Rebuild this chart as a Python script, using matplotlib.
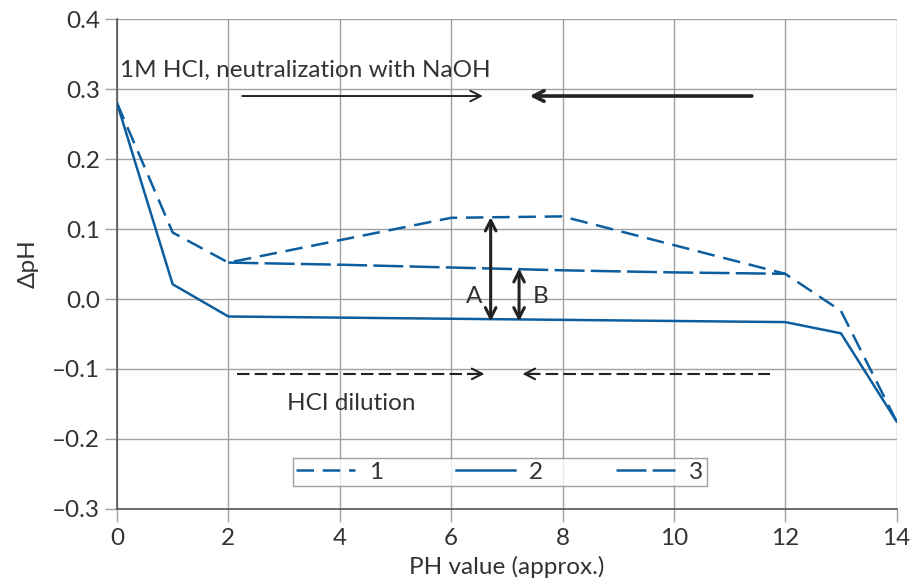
import matplotlib.pyplot as plt

plt.rcParams['font.family'] = ['Lato', 'DejaVu Sans']

# data
ph_1 = [0, 1, 2, 6, 8, 12, 13, 14]
dph_1 = [0.28, 0.095, 0.052, 0.116, 0.118, 0.036, -0.017, -0.175]

ph_2 = [0, 1, 2, 12, 13, 14]
dph_2 = [0.28, 0.021, -0.025, -0.033, -0.049, -0.175]

ph_3 = [2, 4, 6, 8, 10, 12]
dph_3 = [0.052, 0.049, 0.045, 0.041, 0.038, 0.036]

xticks = [0, 2, 4, 6, 8, 10, 12, 14]
yticks = [-0.3, -0.2, -0.1, 0.0, 0.1, 0.2, 0.3, 0.4]
ytick_labels = ['\u20130.3', '\u20130.2', '\u20130.1', '0.0', '0.1', '0.2', '0.3', '0.4']

blue = '#0d5e9e'
txt = '#333333'
grid = '#a0a0a0'
dark = '#222222'
fs = 17.5

fig = plt.figure(figsize=(9.14, 5.87), dpi=100)
ax = fig.add_axes([0.128, 0.1329, 0.853, 0.8347])

ax.plot(ph_1, dph_1, color=blue, lw=1.8, dashes=(7, 3.5), label='1', zorder=3)
ax.plot(ph_2, dph_2, color=blue, lw=1.8, label='2', zorder=3)
ax.plot(ph_3, dph_3, color=blue, lw=1.8, dashes=(12, 2.5), label='3', zorder=3)

ax.set_xlim(0, 14)
ax.set_ylim(-0.3, 0.4)
ax.set_xticks(xticks)
ax.set_yticks(yticks)
ax.set_yticklabels(ytick_labels)
ax.grid(True, color=grid, lw=1.0)
ax.tick_params(axis='both', colors=grid, labelcolor=txt, labelsize=fs, length=9, width=1.0)
ax.tick_params(axis='x', pad=5)
ax.tick_params(axis='y', pad=3)
for side in ['top', 'right']:
    ax.spines[side].set_visible(False)
for side in ['left', 'bottom']:
    ax.spines[side].set_color('#555555')
    ax.spines[side].set_linewidth(1.2)

ax.set_xlabel('PH value (approx.)', fontsize=fs, color=txt, labelpad=5)
ax.set_ylabel('\u0394pH', fontsize=fs, color=txt, labelpad=10)

head = '->,head_length=0.75,head_width=0.38'

# top arrows: neutralization
ax.text(0.05, 0.327, '1M HCI, neutralization with NaOH', fontsize=fs, color=txt, va='center')
ax.annotate('', xy=(6.62, 0.29), xytext=(2.2, 0.29),
            arrowprops=dict(arrowstyle=head, color=dark, lw=1.4))
ax.annotate('', xy=(7.36, 0.29), xytext=(11.45, 0.29),
            arrowprops=dict(arrowstyle=head, color=dark, lw=2.6))

# bottom arrows: dilution (dashed shaft, solid head)
ax.plot([2.15, 6.5], [-0.107, -0.107], color=dark, lw=1.5, dashes=(6, 2.5))
ax.annotate('', xy=(6.6, -0.107), xytext=(6.3, -0.107),
            arrowprops=dict(arrowstyle=head, color=dark, lw=1.5, shrinkA=0, shrinkB=0))
ax.plot([7.38, 11.72], [-0.107, -0.107], color=dark, lw=1.5, dashes=(6, 2.5))
ax.annotate('', xy=(7.28, -0.107), xytext=(7.58, -0.107),
            arrowprops=dict(arrowstyle=head, color=dark, lw=1.5, shrinkA=0, shrinkB=0))
ax.text(4.2, -0.149, 'HCI dilution', fontsize=fs, color=txt, ha='center', va='center')

# A and B difference arrows
dbl = '<->,head_length=0.75,head_width=0.38'
ax.annotate('', xy=(6.71, 0.117), xytext=(6.71, -0.032),
            arrowprops=dict(arrowstyle=dbl, color=dark, lw=2.2, shrinkA=0, shrinkB=0))
ax.annotate('', xy=(7.22, 0.044), xytext=(7.22, -0.032),
            arrowprops=dict(arrowstyle=dbl, color=dark, lw=2.2, shrinkA=0, shrinkB=0))
ax.text(6.42, 0.003, 'A', fontsize=fs, color=txt, ha='center', va='center')
ax.text(7.6, 0.003, 'B', fontsize=fs, color=txt, ha='center', va='center')

leg = ax.legend(loc='center', bbox_to_anchor=(0.491, 0.0755), ncol=3, fontsize=fs,
                frameon=True, fancybox=False, handlelength=2.4, columnspacing=3.0,
                borderpad=0.15, handletextpad=0.6, borderaxespad=0)
leg.get_frame().set_edgecolor('#888888')
leg.get_frame().set_linewidth(1.0)
for t in leg.get_texts():
    t.set_color(txt)

fig.savefig('out.png', dpi=100)
